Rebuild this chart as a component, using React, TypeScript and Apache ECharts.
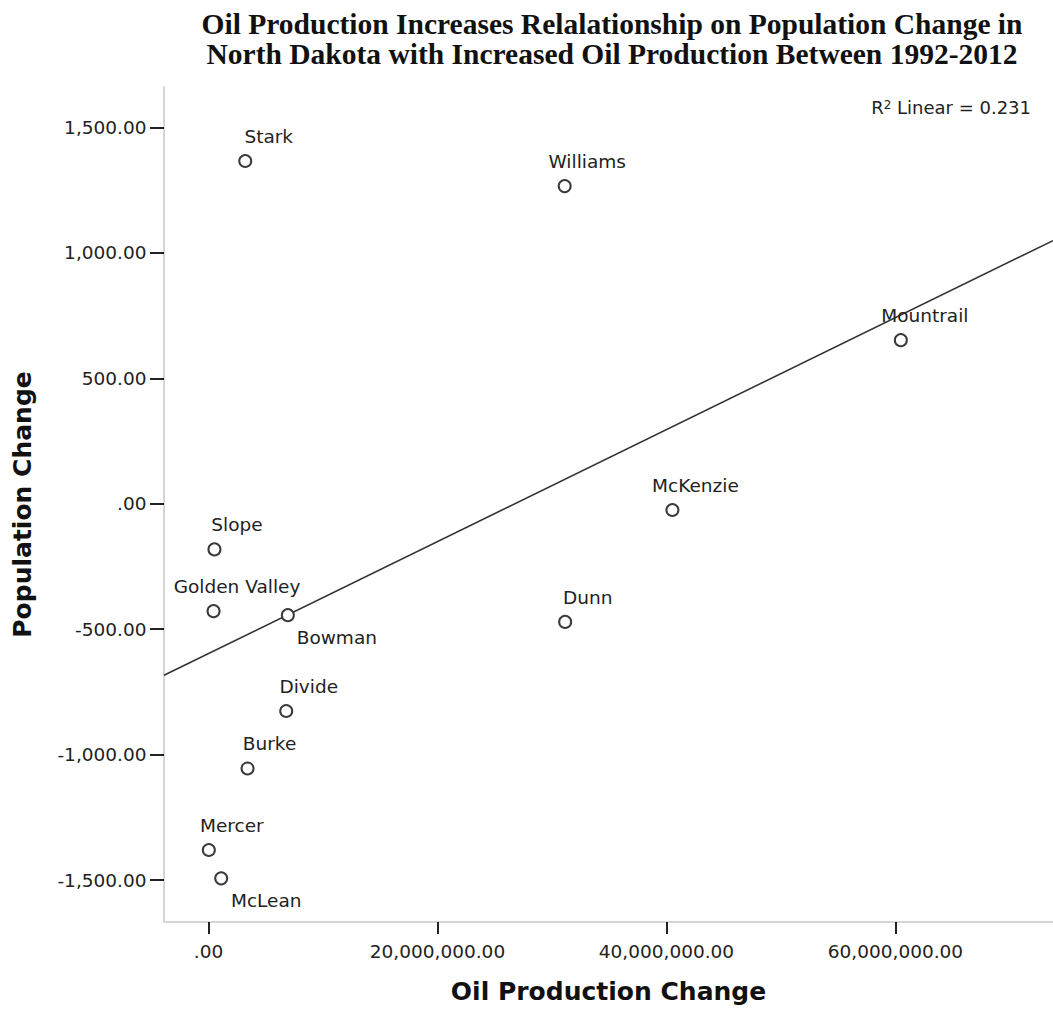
import React, { useEffect, useRef } from 'react';
import * as echarts from 'echarts';

const counties = ['Stark', 'Williams', 'Mountrail', 'McKenzie', 'Dunn', 'Slope', 'Golden Valley', 'Bowman', 'Divide', 'Burke', 'Mercer', 'McLean'];
const oilChange = [3210000, 31110000, 60470000, 40520000, 31150000, 520000, 440000, 6930000, 6790000, 3410000, 30000, 1110000];
const popChange = [1366, 1266, 652, -25, -471, -182, -428, -444, -826, -1055, -1380, -1493];
const labelsBelow = ['Bowman', 'McLean'];
const labelShiftX = [23.5, 22.5, 24, 23, 22.5, 22.5, 23.5, 49, 22.5, 22, 23, 45];

const xTicks = [0, 20000000, 40000000, 60000000];
const yTicks = [-1500, -1000, -500, 0, 500, 1000, 1500];

// R² as printed on the reference chart
const rSquaredLabel = '0.231';

const X_MIN = -3886000;
const X_MAX = 73760000;
const Y_MIN = -1667;
const Y_MAX = 1661;

const titleLines = [
  'Oil Production Increases Relalationship on Population Change in',
  'North Dakota with Increased Oil Production Between 1992-2012',
];
const xName = 'Oil Production Change';
const yName = 'Population Change';

const SANS = '"DejaVu Sans", Arial, sans-serif';
const SERIF = '"Liberation Serif", "Times New Roman", serif';

function fmt(v: number): string {
  if (v === 0) return '.00';
  return v.toLocaleString('en-US', { minimumFractionDigits: 2, maximumFractionDigits: 2 });
}

function fit() {
  const n = oilChange.length;
  const mx = oilChange.reduce((a, b) => a + b, 0) / n;
  const my = popChange.reduce((a, b) => a + b, 0) / n;
  let sxy = 0, sxx = 0;
  for (let i = 0; i < n; i++) {
    const dx = oilChange[i] - mx;
    const dy = popChange[i] - my;
    sxy += dx * dy;
    sxx += dx * dx;
  }
  const slope = sxy / sxx;
  const intercept = my - slope * mx;
  return { slope, intercept };
}

export default function App() {
  const ref = useRef<HTMLDivElement>(null);
  useEffect(() => {
    if (!ref.current) return;
    const chart = echarts.init(ref.current, undefined, { renderer: 'svg' });
    const { slope, intercept } = fit();

    const points = counties.map((name, i) => {
      const below = labelsBelow.includes(name);
      return {
        name,
        value: [oilChange[i], popChange[i]],
        label: {
          position: below ? 'bottom' : 'top',
          distance: below ? 6 : 8,
          offset: [labelShiftX[i], 0],
        },
      };
    });

    const axisCommon = {
      type: 'value',
      nameLocation: 'middle',
      nameMoveOverlap: false,
      nameTextStyle: { fontFamily: SANS, fontWeight: 'bold', fontSize: 25, color: '#111' },
      splitLine: { show: false },
    };

    const titleGraphics = titleLines.map((line, i) => ({
      type: 'text',
      x: 612,
      y: 23.5 + i * 30.5,
      style: {
        text: line,
        fontFamily: SERIF,
        fontWeight: 'bold',
        fontSize: 29.5,
        fill: '#111',
        align: 'center',
        verticalAlign: 'middle',
        textAlign: 'center',
        textVerticalAlign: 'middle',
      },
    }));

    chart.setOption({
      animation: false,
      backgroundColor: '#ffffff',
      grid: { left: 164, right: 0, top: 87, bottom: 93, containLabel: false, outerBoundsMode: 'none' },
      xAxis: {
        ...axisCommon,
        min: X_MIN,
        max: X_MAX,
        name: xName,
        nameGap: 57,
        axisLine: { show: true, onZero: false, lineStyle: { color: '#d6d6d6', width: 2 } },
        axisTick: { show: true, customValues: xTicks, length: 12, lineStyle: { color: '#222', width: 2 } },
        axisLabel: { customValues: xTicks, formatter: fmt, margin: 20, fontFamily: SANS, fontSize: 18.5, color: '#222' },
      },
      yAxis: {
        ...axisCommon,
        min: Y_MIN,
        max: Y_MAX,
        name: yName,
        nameGap: 129,
        axisLine: { show: true, onZero: false, lineStyle: { color: '#d6d6d6', width: 2 } },
        axisTick: { show: true, customValues: yTicks, length: 14, lineStyle: { color: '#222', width: 2 } },
        axisLabel: {
          customValues: yTicks,
          formatter: fmt,
          margin: 17.5,
          padding: [7, 0, 0, 0],
          fontFamily: SANS,
          fontSize: 18.5,
          color: '#222',
        },
      },
      series: [
        {
          type: 'line',
          silent: true,
          symbol: 'none',
          data: [
            [X_MIN, intercept + slope * X_MIN],
            [X_MAX, intercept + slope * X_MAX],
          ],
          lineStyle: { color: '#333', width: 1.6 },
          z: 1,
        },
        {
          type: 'scatter',
          symbol: 'circle',
          symbolSize: 12,
          itemStyle: { color: '#ffffff', borderColor: '#3a3a3a', borderWidth: 2, opacity: 1 },
          label: {
            show: true,
            formatter: (p: any) => p.name,
            fontFamily: SANS,
            fontSize: 18.5,
            color: '#222',
          },
          data: points,
          z: 3,
        },
      ],
      graphic: [
        ...titleGraphics,
        {
          type: 'text',
          x: 1031,
          y: 107.5,
          style: {
            text: '{a|R}{s|2}{a| Linear = ' + rSquaredLabel + '}',
            rich: {
              a: { fontFamily: SANS, fontSize: 18, fill: '#222', color: '#222' },
              s: { fontFamily: SANS, fontSize: 12, fill: '#222', color: '#222', verticalAlign: 'top', padding: [0, 0, 4, 0] },
            },
            fontFamily: SANS,
            fontSize: 18,
            fill: '#222',
            align: 'right',
            verticalAlign: 'middle',
            textAlign: 'right',
            textVerticalAlign: 'middle',
          },
        },
      ],
    } as any);
    return () => chart.dispose();
  }, []);
  return <div ref={ref} style={{ position: 'absolute', left: 0, top: 0, width: 1053, height: 1015 }} />;
}
